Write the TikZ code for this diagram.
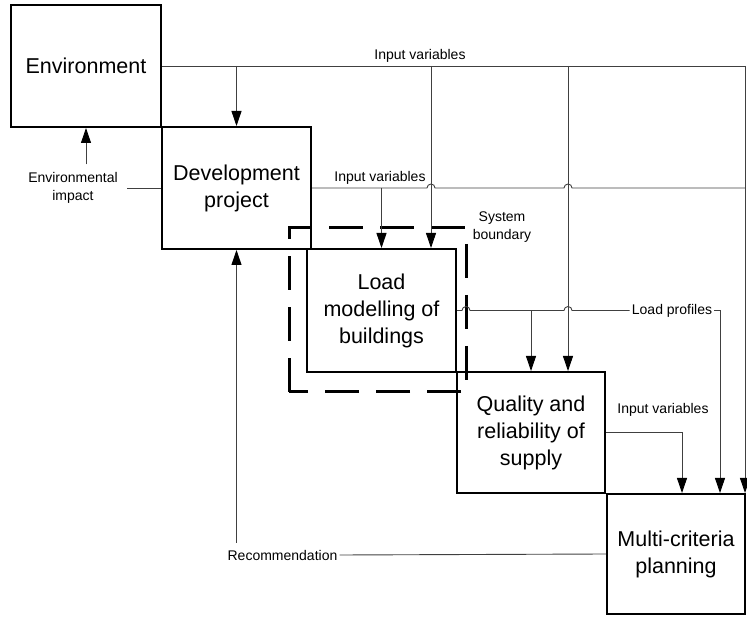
\documentclass[tikz,border=0pt]{standalone}
\usepackage{fontspec}
\setmainfont{Liberation Sans}
\usetikzlibrary{arrows.meta}

\tikzset{
  block/.style={draw, line width=2pt, align=center, inner sep=0pt,
    font=\fontsize{21.5}{27}\selectfont},
  lbl/.style={align=center, inner sep=2pt, font=\fontsize{14}{18}\selectfont},
  link/.style={draw=black!75, line width=0.9pt},
  arr/.style={link, -{Triangle[length=15pt,width=10pt,color=black,fill=black]}},
  boundary/.style={line width=3pt, dash pattern=on 34pt off 17pt}
}

\begin{document}
\begin{tikzpicture}[x=1pt,y=1pt]
      \useasboundingbox (0,0) rectangle (747,616);

      % blocks
      \node[block, minimum width=150pt, minimum height=122pt] (env) at (86,550) {Environment};
      \node[block, minimum width=149pt, minimum height=122pt] (dev) at (236.5,428) {Development\\project};
      \node[block, minimum width=149pt, minimum height=123pt] (load) at (381.5,305.5) {Load\\modelling of\\buildings};
      \node[block, minimum width=148pt, minimum height=121pt] (qual) at (531,183.5) {Quality and\\reliability of\\supply};
      \node[block, minimum width=138pt, minimum height=120pt] (multi) at (676,62) {Multi-criteria\\planning};

      % system boundary
      \draw[boundary] (289,224) rectangle (466,388);

      % labels
      \node[lbl] (iv1) at (420,560) {Input variables};
      \node[lbl] (iv2) at (380,438) {Input variables};
      \node[lbl] (iv3) at (663,206) {Input variables};
      \node[lbl] (sysb) at (502,389) {System\\boundary};
      \node[lbl] (lp) at (672,305.5) {Load profiles};
      \node[lbl] (rec) at (282.5,61) {Recommendation};
      \node[lbl] (eimp) at (73,428) {Environmental\\impact};

      \coordinate (v1) at (431,550);
      \coordinate (v2) at (568,550);
      \coordinate (v3) at (745,550);
      \coordinate (v4) at (720,305.5);
      \coordinate (v5) at (682,183.5);

      % input variables from environment
      \draw[link] (env.east) -- (v3);
      \draw[arr] (env.east -| dev.north) -- (dev.north);
      \draw[arr] (v1) -- (v1 |- load.north);
      \draw[arr] (v2) -- (v2 |- qual.north);
      \draw[arr] (v3) -- (v3 |- multi.north);

      % input variables from development project
      \draw[link] (dev.east) -- (427,428) arc (180:0:4) -- (564,428) arc (180:0:4) -- (745,428);
      \draw[arr] (dev.east -| load.north) -- (load.north);

      % load profiles
      \draw[link] (load.east) -- (462,305.5) arc (180:0:4) -- (564,305.5) arc (180:0:4) -- (lp.west);
      \draw[arr] (load.east -| qual.north) -- (qual.north);
      \draw[arr] (lp.east) -- (v4) -- (v4 |- multi.north);

      % input variables from quality
      \draw[arr] (qual.east) -- (v5) -- (v5 |- multi.north);

      % feedback
      \draw[link] (multi.west) -- (rec.east);
      \draw[arr] ([yshift=5pt]rec.north -| dev.south) -- (dev.south);
      \draw[link] (dev.west) -- ([xshift=7pt]eimp.east);
      \draw[arr] ([yshift=6pt]eimp.north -| env.south) -- (env.south);
\end{tikzpicture}
\end{document}
